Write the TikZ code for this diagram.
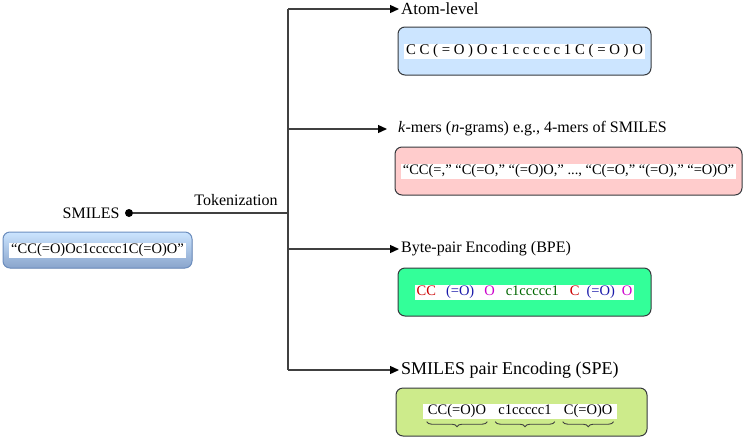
\documentclass[tikz,border=0pt]{standalone}
\usepackage{fontspec}
\setmainfont{Liberation Serif}
\usetikzlibrary{arrows.meta,positioning,decorations.pathreplacing}
\definecolor{linegray}{RGB}{64,64,64}
\definecolor{boxedge}{RGB}{54,57,61}
\definecolor{smilesedge}{RGB}{108,142,191}
\definecolor{atomblue}{RGB}{204,229,255}
\definecolor{kmerpink}{RGB}{255,204,204}
\definecolor{bpegreen}{RGB}{51,255,153}
\definecolor{speolive}{RGB}{205,235,139}
\definecolor{bpered}{RGB}{204,0,0}
\definecolor{bpeblue}{RGB}{26,26,170}
\definecolor{bpemagenta}{RGB}{204,0,204}
\definecolor{bpedkgreen}{RGB}{0,102,0}

\begin{document}
\begin{tikzpicture}[x=1pt, y=-1pt,
  every node/.style={font=\fontsize{16}{19}\selectfont},
  box/.style={draw=boxedge, rounded corners=7pt, fill=#1, line width=1pt,
              inner sep=0pt},
  tok/.style={fill=white, inner xsep=2pt, inner ysep=0pt, text height=11pt,
              text depth=4pt, font=\fontsize{14.5}{17}\selectfont},
  lab/.style={anchor=west, inner xsep=2pt, font=\fontsize{17}{20}\selectfont},
  line/.style={draw=linegray, line width=1.3pt},
  arrow/.style={line, -{Triangle[length=9pt, width=8pt, color=black]}},
  brace/.style={decorate, decoration={brace, mirror, amplitude=5pt},
                draw=linegray, line width=0.9pt}
]
\useasboundingbox (0,0) rectangle (744,437);

\node[fill=black, circle, inner sep=0pt, minimum size=8pt] (smiles) at (129,213) {};
\node[left=5pt of smiles, inner sep=0pt] (smileslab) {SMILES};
\node[box, draw=smilesedge, top color=atomblue, bottom color=smilesedge!80,
      minimum width=189pt, minimum height=36pt] (smilesbox) at (97.5,250) {};
\node[tok] (smilestxt) at (smilesbox) {``CC(=O)Oc1ccccc1C(=O)O''};

\coordinate (top)   at (288,9);
\coordinate (split) at (288,213);
\coordinate (bot)   at (288,370);
\draw[line] (top) -- (bot);
\draw[line] (smiles) -- (split);
\node (tokenize) at (236,200) {Tokenization};

\node[lab] (atom) at (399,9)   {Atom-level};
\node[lab, font=\fontsize{16}{19}\selectfont] (kmer) at (396,129)
  {\textit{k}-mers (\textit{n}-grams) e.g., 4-mers of SMILES};
\node[lab, font=\fontsize{16}{19}\selectfont] (bpe) at (399,249) {Byte-pair Encoding (BPE)};
\node[lab, font=\fontsize{18}{21}\selectfont] (spe) at (399,370) {SMILES pair Encoding (SPE)};

\foreach \lab in {atom, bpe, spe}
  \draw[arrow] (top |- \lab.west) -- (\lab.west);
\draw[arrow] (top |- kmer.west) -- ([xshift=-9pt]kmer.west);

\node[box=atomblue, minimum width=253pt, minimum height=48pt] (atombox) at (524.5,51) {};
\node[tok, font=\fontsize{14.8}{17}\selectfont] (atomtxt) at (atombox)
  {C C ( = O ) O c 1 c c c c c 1 C ( = O ) O};

\node[box=kmerpink, minimum width=347pt, minimum height=48pt] (kmerbox) at (568.5,171) {};
\node[tok] (kmertxt) at (kmerbox)
  {``CC(=,'' ``C(=O,'' ``(=O)O,'' ..., ``C(=O,'' ``(=O),'' ``=O)O''};

\node[box=bpegreen, minimum width=253pt, minimum height=48pt] (bpebox) at (524.5,292) {};
\node[tok] (bpetxt) at (bpebox)
  {\textcolor{bpered}{CC}\hspace{10pt}\textcolor{bpeblue}{(=O)}\hspace{10pt}%
   \textcolor{bpemagenta}{O}\hspace{11pt}\textcolor{bpedkgreen}{c1ccccc1}\hspace{11pt}%
   \textcolor{bpered}{C}\hspace{7pt}\textcolor{bpeblue}{(=O)}\hspace{7pt}%
   \textcolor{bpemagenta}{O}};

\node[box=speolive, minimum width=251pt, minimum height=48pt] (spebox) at (521.5,412) {};
\node[tok, inner xsep=7pt] (spe2) at (525,411) {c1ccccc1};
\node[tok, inner xsep=5pt, left=0pt of spe2]  (spe1) {CC(=O)O};
\node[tok, inner xsep=5pt, right=0pt of spe2] (spe3) {C(=O)O};
\foreach \grp in {spe1, spe2, spe3}
  \draw[brace] ([xshift=4pt, yshift=-3pt]\grp.south west) -- ([xshift=-4pt, yshift=-3pt]\grp.south east);
\end{tikzpicture}
\end{document}
